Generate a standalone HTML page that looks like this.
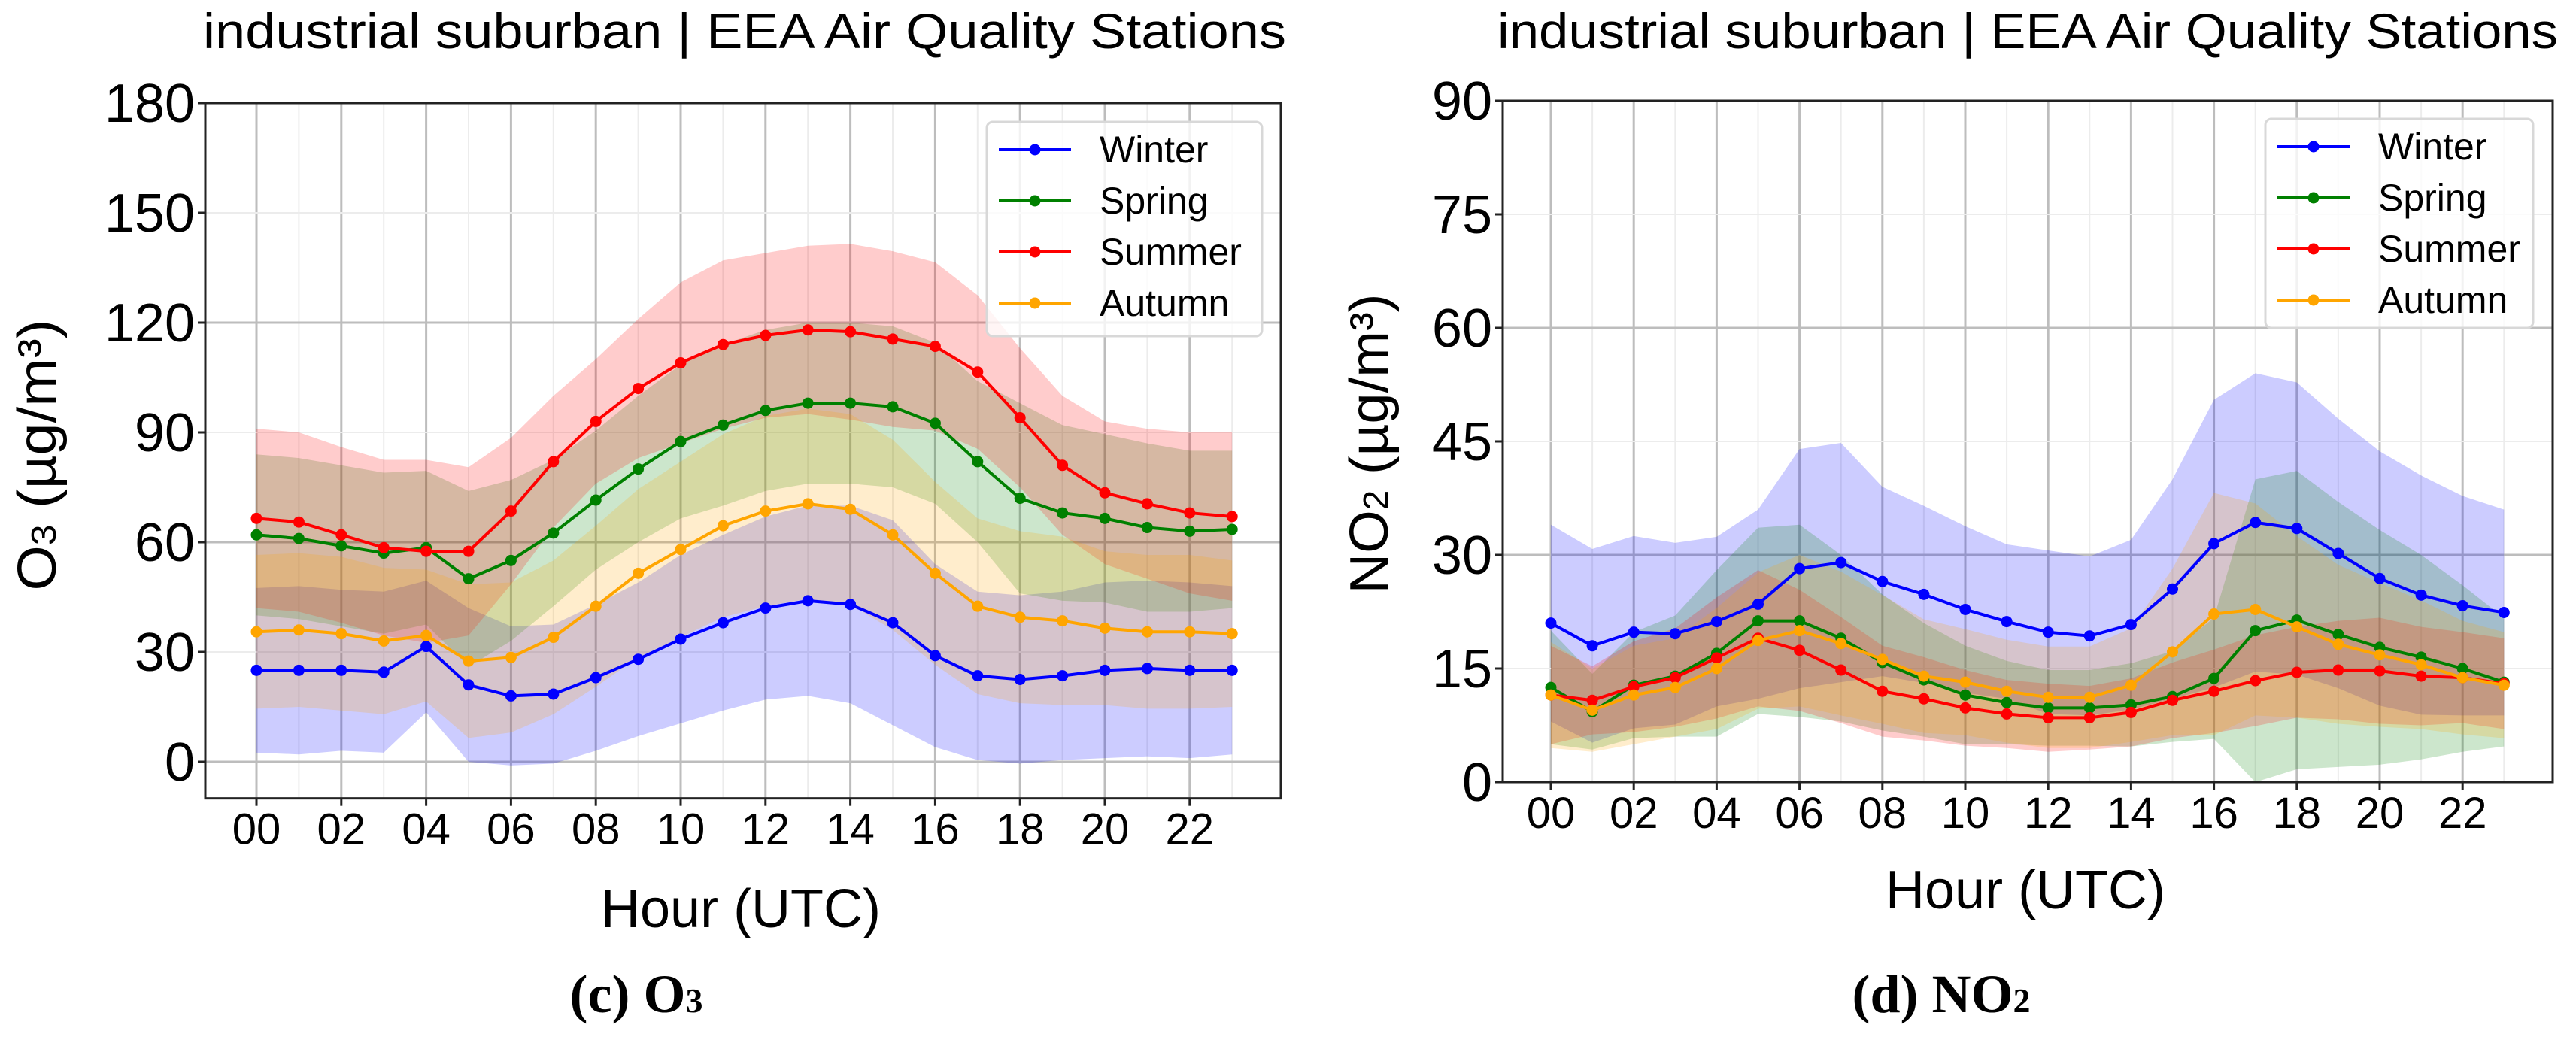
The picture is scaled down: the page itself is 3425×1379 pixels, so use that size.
<!DOCTYPE html>
<html><head><meta charset="utf-8"><style>
html,body{margin:0;padding:0;background:#fff;}
svg{display:block;}
text{font-family:"Liberation Sans","DejaVu Sans",sans-serif;}
</style></head><body>
<svg id="fig" width="3425" height="1379" viewBox="0 0 3425 1379" xmlns="http://www.w3.org/2000/svg"></svg>
<script>
const hours = [0,1,2,3,4,5,6,7,8,9,10,11,12,13,14,15,16,17,18,19,20,21,22,23];
const xTickLabels = ["00","02","04","06","08","10","12","14","16","18","20","22"];
const seasons = ["Winter","Spring","Summer","Autumn"];
const o3Ticks = [0,30,60,90,120,150,180];
const no2Ticks = [0,15,30,45,60,75,90];

const o3Winter = [25,25,25,24.5,31.5,21,18,18.5,23,28,33.5,38,42,44,43,38,29,23.5,22.5,23.5,25,25.5,25,25];
const o3Spring = [62,61,59,57,58.5,50,55,62.5,71.5,80,87.5,92,96,98,98,97,92.5,82,72,68,66.5,64,63,63.5];
const o3Summer = [66.5,65.5,62,58.5,57.5,57.5,68.5,82,93,102,109,114,116.5,118,117.5,115.5,113.5,106.5,94,81,73.5,70.5,68,67];
const o3Autumn = [35.5,36,35,33,34.5,27.5,28.5,34,42.5,51.5,58,64.5,68.5,70.5,69,62,51.5,42.5,39.5,38.5,36.5,35.5,35.5,35];
const o3WinterStd = [22.5,23,22,22,18,21,19,19,20,21,23,24,25,26,27,28,25,23,23,23,24,24,24,23];
const o3SpringStd = [22,22,22,22,21,24,22,20,19,20,21,22,22,22,22,22,22,22,26,24,23,23,22,21.5];
const o3SummerStd = [24.5,24.5,24,24,25,23,20,18,17,19,22,23,22.5,23,24,24,23,21,19,19,19.5,20.5,22,23];
const o3AutumnStd = [21,21,21,20,18,21,20.5,21,22,23,24,25,26,26,26,26,25,24,23.5,23,21,21,21,20];

const no2Winter = [21,18,19.8,19.6,21.2,23.5,28.2,29,26.5,24.8,22.8,21.2,19.8,19.3,20.8,25.5,31.5,34.3,33.5,30.2,26.9,24.7,23.3,22.4];
const no2Spring = [12.5,9.3,12.8,14,17,21.3,21.3,19,15.8,13.5,11.5,10.5,9.8,9.8,10.2,11.3,13.7,20,21.4,19.5,17.8,16.5,15,13.2];
const no2Summer = [11.5,10.8,12.6,13.8,16.4,19,17.4,14.8,12,11,9.8,9,8.5,8.5,9.2,10.8,12,13.4,14.5,14.8,14.7,14,13.8,13];
const no2Autumn = [11.5,9.5,11.5,12.5,15,18.7,20,18.3,16.2,14,13.2,12,11.2,11.2,12.8,17.2,22.2,22.8,20.5,18.2,16.8,15.5,13.8,12.8];
const no2WinterStd = [13,12.8,12.7,12,11.2,12.5,15.8,15.8,12.5,11.7,11,10.2,10.8,10.5,11.2,14.5,19,19.7,19.3,17.8,16.8,15.8,14.5,13.6];
const no2SpringStd = [7.5,5,7,8,11,12.3,12.7,11,9,7.5,6.5,5.5,5,5,5.5,6,8,20,19.7,17.5,15.5,13.5,11,8.5];
const no2SummerStd = [6.5,4.5,6,6.5,8,9,8,7,6,5.5,5,4.5,4.5,4.2,4.5,5,5.5,6,6,6.5,7,6.5,6,6];
const no2AutumnStd = [7,5.5,6.5,6.5,8,9,10,9.5,8.5,7.5,7,6.8,6.7,6.7,7.5,11,16,14,12,10.5,9.5,8.5,7.5,7];

const NS = "http://www.w3.org/2000/svg";
const svg = document.getElementById('fig');
const colors = ["#0000ff","#008000","#ff0000","#ffa500"];

function mk(tag, attrs, parent, txt){
  const e = document.createElementNS(NS, tag);
  for (const k in attrs) e.setAttribute(k, attrs[k]);
  if (txt !== undefined) e.textContent = txt;
  parent.appendChild(e);
  return e;
}

function drawChart(c){
  const g = mk('g', {}, svg);
  
  
  const X = h => c.x0 + (h - hours[0]) * c.dx;
  const Y = v => c.yTop + (c.yMax - v) * c.py;
  const yBot = Y(c.yMin);
  // grid
  for (let h = 0; h < 24; h++){
    const gl = mk('line', {x1:X(h),x2:X(h),y1:c.yTop,y2:yBot,stroke:h%2===0?'#bdbdbd':'#ececec','stroke-width':h%2===0?3:2}, g);
    
    
  }
  c.ticks.forEach((t,i) => {
    const gl = mk('line', {x1:c.left,x2:c.right,y1:Y(t),y2:Y(t),stroke:i%2===0?'#bdbdbd':'#ececec','stroke-width':i%2===0?3:2}, g);
    
    
  });
  // bands
  c.means.forEach((m, s) => {
    const sd = c.stds[s];
    let d = hours.map((h,i) => (i? 'L':'M') + X(h) + ',' + Y(m[i]+sd[i])).join('');
    for (let i = hours.length-1; i >= 0; i--) d += 'L' + X(hours[i]) + ',' + Y(m[i]-sd[i]);
    const p = mk('path', {d: d+'Z', fill: colors[s], 'fill-opacity': 0.2, stroke: 'none'}, g);
    
    
  });
  // lines
  c.means.forEach((m, s) => {
    const pts = hours.map((h,i) => X(h) + ',' + Y(m[i])).join(' ');
    const l = mk('polyline', {points: pts, fill:'none', stroke: colors[s], 'stroke-width': 4}, g);
    
    
    hours.forEach((h,i) => {
      const mkr = mk('circle', {cx: X(h), cy: Y(m[i]), r: 7.5, fill: colors[s]}, g);
      
      
    });
  });
  // spines
  const sp = mk('rect', {x:c.left,y:c.yTop,width:c.right-c.left,height:yBot-c.yTop,fill:'none',stroke:'#222','stroke-width':3}, g);
  
  
  // y ticks
  c.ticks.forEach(t => {
    const tk = mk('line', {x1:c.left-10,x2:c.left,y1:Y(t),y2:Y(t),stroke:'#222','stroke-width':3}, g);
    
    
    const tl = mk('text', {x:c.left-14,y:Y(t)+25,'font-size':c.yFont,'text-anchor':'end',fill:'#000'}, g, String(t));
    
    
  });
  // x ticks
  xTickLabels.forEach(lab => {
    const h = parseInt(lab, 10);
    const tk = mk('line', {x1:X(h),x2:X(h),y1:yBot,y2:yBot+10,stroke:'#222','stroke-width':3}, g);
    
    
    const tl = mk('text', {x:X(h),y:yBot+61,'font-size':58,'text-anchor':'middle',fill:'#000'}, g, lab);
    
    
  });
  // title
  const ti = mk('text', {x:c.titleX,y:64,'font-size':66,textLength:c.titleLen,lengthAdjust:'spacingAndGlyphs',fill:'#000'}, g, 'industrial suburban | EEA Air Quality Stations');
  
  
  // x label
  const xl = mk('text', {x:c.xlabX,y:c.xlabY,'font-size':72,'text-anchor':'middle',fill:'#000'}, g, 'Hour (UTC)');
  
  
  // y label
  const yl = mk('text', {x:0,y:0,'font-size':72,'text-anchor':'middle',textLength:c.ylabLen,lengthAdjust:'spacingAndGlyphs',fill:'#000',transform:'translate('+(c.ylabX+26)+','+c.ylabY+') rotate(-90)'}, g);
  
  
  const t1 = mk('tspan', {}, yl, c.gas);
  const t2 = mk('tspan', {'font-size':46}, yl, c.sub);
  const t3 = mk('tspan', {}, yl, ' (µg/m³)');
  // caption
  const cp = mk('text', {x:c.capX,y:1346,'font-size':72,'font-weight':'bold','text-anchor':'middle',fill:'#000',style:'font-family:"Liberation Serif",serif'}, g);
  
  
  mk('tspan', {}, cp, c.cap + ' ' + c.gas);
  mk('tspan', {'font-size':46}, cp, c.sub);
  // legend
  const lg = mk('g', {}, g);
  
  
  mk('rect', {x:c.leg.x,y:c.leg.y,width:c.leg.w,height:c.leg.h,rx:8,fill:'#fff','fill-opacity':0.8,stroke:'#d8d8d8','stroke-width':3}, lg);
  seasons.forEach((s,i) => {
    const yy = c.leg.y + 37 + i*68;
    const e = mk('g', {}, lg);
    
    
    mk('line', {x1:c.leg.x+16,x2:c.leg.x+112,y1:yy,y2:yy,stroke:colors[i],'stroke-width':4}, e);
    mk('circle', {cx:c.leg.x+64,cy:yy,r:7.5,fill:colors[i]}, e);
    mk('text', {x:c.leg.x+150,y:yy+17,'font-size':50,fill:'#000'}, e, s);
  });
}

drawChart({name:'o3-chart', x0:341, dx:56.4, left:273, right:1703, yTop:137, yMax:180, yMin:-10, py:146/30,
  ticks:o3Ticks, means:[o3Winter,o3Spring,o3Summer,o3Autumn], stds:[o3WinterStd,o3SpringStd,o3SummerStd,o3AutumnStd],
  yFont:72, titleX:270, titleLen:1440, xlabX:985, xlabY:1233, ylabX:48, ylabY:605, ylabLen:361,
  gas:'O', sub:'3', cap:'(c)', capX:846, leg:{x:1312,y:162,w:366,h:285}});
drawChart({name:'no2-chart', x0:2062, dx:55.1, left:1998, right:3394, yTop:134, yMax:90, yMin:0, py:151/15,
  ticks:no2Ticks, means:[no2Winter,no2Spring,no2Summer,no2Autumn], stds:[no2WinterStd,no2SpringStd,no2SummerStd,no2AutumnStd],
  yFont:72, titleX:1991, titleLen:1410, xlabX:2693, xlabY:1208, ylabX:1819, ylabY:590, ylabLen:399,
  gas:'NO', sub:'2', cap:'(d)', capX:2581, leg:{x:3012,y:158,w:356,h:278}});
</script>
</body></html>
